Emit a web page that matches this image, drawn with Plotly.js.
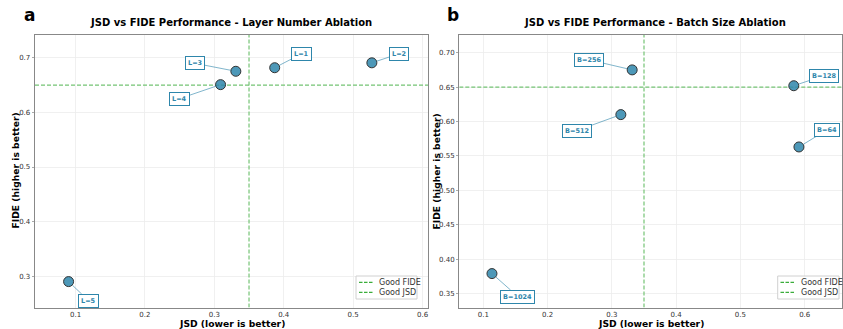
<!DOCTYPE html>
<html>
<head>
<meta charset="utf-8">
<script src="https://cdn.plot.ly/plotly-3.0.1.min.js"></script>
<style>html,body{margin:0;padding:0;background:#fff;}#chart{width:843px;height:329px;}</style>
</head>
<body>
<div id="chart"></div>
<script>
// ---- data ----
const layerLabels = ["L=1", "L=2", "L=3", "L=4", "L=5"];
const layerJSD    = [0.387, 0.527, 0.331, 0.309, 0.090];
const layerFIDE   = [0.682, 0.691, 0.6755, 0.651, 0.290];

const batchLabels = ["B=64", "B=128", "B=256", "B=512", "B=1024"];
const batchJSD    = [0.591, 0.583, 0.3316, 0.314, 0.1135];
const batchFIDE   = [0.563, 0.652, 0.675, 0.610, 0.379];

const goodFIDE = 0.65;
const goodJSD  = 0.35;
const legendNames = ["Good FIDE", "Good JSD"];

// ---- label offsets (pixels) ----
const layerOffX = [27, 27, -41, -41, 20];
const layerOffY = [-14, -9, -8, 14, 19];
const batchOffX = [28, 30, -43, -44, 26];
const batchOffY = [-17, -10, -10, 16, 23];

const W = 843, H = 329;
const FONT = "DejaVu Sans, Liberation Sans, sans-serif";
const BLUE = "#2E86AB";
const GREEN = "#74c374";

const rangeA = {x: [0.0416, 0.6079], y: [0.2425, 0.742]};
const rangeB = {x: [0.0627, 0.658], y: [0.3297, 0.7257]};

function pts(x, y, xa, ya) {
  return {x: x, y: y, xaxis: xa, yaxis: ya, type: "scatter", mode: "markers",
    marker: {size: 10, color: "rgba(46,134,171,0.85)", line: {color: "#333", width: 1}},
    showlegend: false, hoverinfo: "skip"};
}
function refLines(r, xa, ya) {
  return [
    {type: "scatter", x: [r.x[0], r.x[1]], y: [goodFIDE, goodFIDE], xaxis: xa, yaxis: ya, mode: "lines",
     line: {color: GREEN, dash: "4px,2px", width: 1.2}, name: legendNames[0], showlegend: false, hoverinfo: "skip"},
    {type: "scatter", x: [goodJSD, goodJSD], y: [r.y[0], r.y[1]], xaxis: xa, yaxis: ya, mode: "lines",
     line: {color: GREEN, dash: "4px,2px", width: 1.2}, name: legendNames[1], showlegend: false, hoverinfo: "skip"}
  ];
}

const data = [
  ...refLines(rangeA, "x", "y"),
  pts(layerJSD, layerFIDE, "x", "y"),
  ...refLines(rangeB, "x2", "y2"),
  pts(batchJSD, batchFIDE, "x2", "y2")
];

const ann = [];
const shapes = [];
function addLabels(labels, xs, ys, ox, oy, xr, yr) {
  labels.forEach((t, i) => {
    ann.push({x: xs[i], y: ys[i], xref: xr, yref: yr, text: "<b>" + t + "</b>",
      showarrow: true, arrowhead: 0, arrowwidth: 1, arrowcolor: "rgba(46,134,171,0.6)",
      ax: ox[i], ay: oy[i], standoff: 5,
      font: {family: FONT, size: 6.5, color: BLUE},
      bgcolor: "#fff", bordercolor: BLUE, borderwidth: 1, borderpad: 2});
  });
}
addLabels(layerLabels, layerJSD, layerFIDE, layerOffX, layerOffY, "x", "y");
addLabels(batchLabels, batchJSD, batchFIDE, batchOffX, batchOffY, "x2", "y2");

function txt(text, px, py, size, opts) {
  ann.push(Object.assign({text: text, xref: "paper", yref: "paper", x: px / W, y: 1 - py / H,
    xanchor: "center", yanchor: "middle", showarrow: false,
    font: {family: FONT, size: size, color: "#000"}}, opts || {}));
}
txt("<b>JSD vs FIDE Performance - Layer Number Ablation</b>", 231, 22.7, 10);
txt("<b>JSD vs FIDE Performance - Batch Size Ablation</b>", 655, 22.7, 10);
txt("<b>a</b>", 29, 15, 17);
txt("<b>b</b>", 453, 15, 17);
txt("<b>JSD (lower is better)</b>", 231.5, 323.8, 9.2);
txt("<b>JSD (lower is better)</b>", 651, 323.8, 9.2);
txt("<b>FIDE (higher is better)</b>", 14.5, 171, 9.2, {textangle: -90});
txt("<b>FIDE (higher is better)</b>", 435.5, 171, 9.2, {textangle: -90});

// manual legends
function legendBox(x0, x1, y0, y1, lx0, lx1, tx) {
  shapes.push({type: "rect", xref: "paper", yref: "paper", x0: x0 / W, x1: x1 / W, y0: 1 - y1 / H, y1: 1 - y0 / H,
    line: {color: "#d0d0d0", width: 1}, fillcolor: "rgba(255,255,255,0.9)", layer: "above"});
  const ys = [282.3, 292.3];
  legendNames.forEach((n, i) => {
    shapes.push({type: "line", xref: "paper", yref: "paper", x0: lx0 / W, x1: lx1 / W, y0: 1 - ys[i] / H, y1: 1 - ys[i] / H,
      line: {color: "#3bad3b", dash: "3.5px,1.5px", width: 1.2}, layer: "above"});
    txt(n, tx, ys[i], 8, {xanchor: "left", font: {family: FONT, size: 8, color: "#333"}});
  });
}
legendBox(356, 417, 276, 299, 359, 373, 377);
legendBox(777.7, 839, 276, 299, 780.5, 794.5, 799);

const yDom = [1 - 307.5 / H, 1 - 35 / H];
function xax(dom, r, dt, ya) {
  return {domain: dom, range: r, dtick: dt, tick0: 0, anchor: ya, showgrid: true, gridcolor: "#ececec", gridwidth: 0.8,
    showline: true, mirror: true, linecolor: "#888", linewidth: 1.3, zeroline: false,
    ticks: "", tickfont: {family: FONT, size: 7, color: "#333"}};
}
function yax(r, dt, fmt, xa) {
  return {domain: yDom, range: r, dtick: dt, tick0: 0, tickformat: fmt, anchor: xa,
    showgrid: true, gridcolor: "#ececec", gridwidth: 0.8,
    showline: true, mirror: true, linecolor: "#888", linewidth: 1.3, zeroline: false,
    ticks: "outside", ticklen: 2, tickcolor: "#aaa", tickfont: {family: FONT, size: 7, color: "#333"}};
}

const layout = {
  width: W, height: H, margin: {l: 0, r: 0, t: 0, b: 0},
  paper_bgcolor: "#fff", plot_bgcolor: "#fff", showlegend: false,
  xaxis: xax([35 / W, 428 / W], rangeA.x, 0.1, "y"),
  yaxis: yax(rangeA.y, 0.1, ".1f", "x"),
  xaxis2: xax([459.3 / W, 842 / W], rangeB.x, 0.1, "y2"),
  yaxis2: yax(rangeB.y, 0.05, ".2f", "x2"),
  annotations: ann,
  shapes: shapes
};

Plotly.newPlot("chart", data, layout, {staticPlot: true, displayModeBar: false});
</script>
</body>
</html>
